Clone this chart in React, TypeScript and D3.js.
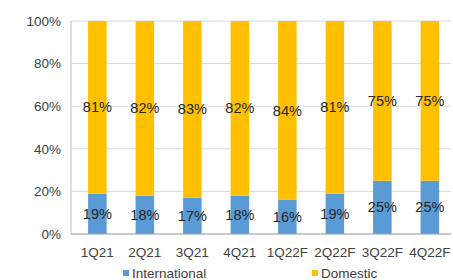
import * as d3 from "d3";

const quarters = ["1Q21", "2Q21", "3Q21", "4Q21", "1Q22F", "2Q22F", "3Q22F", "4Q22F"];
const international = [19, 18, 17, 18, 16, 19, 25, 25];
const domestic = [81, 82, 83, 82, 84, 81, 75, 75];
const yTicks = [0, 20, 40, 60, 80, 100];

const seriesNames = ["International", "Domestic"];
const colors = ["#5B9BD5", "#FFC000"];

export default function App() {
  const width = 453;
  const height = 280;
  const margin = { top: 21, right: 2, bottom: 46, left: 71 };
  const innerW = width - margin.left - margin.right;
  const innerH = height - margin.top - margin.bottom;

  const rows = quarters.map((q, i) => ({ q, International: international[i], Domestic: domestic[i] }));
  const stacked = d3.stack<any>().keys(seriesNames)(rows);

  const x = d3
    .scaleBand()
    .domain(quarters)
    .range([0, innerW])
    .paddingInner(0.61)
    .paddingOuter(0.305)
    .align(0.59);
  const y = d3.scaleLinear().domain([0, 100]).range([innerH, 0]);

  const font = "'Liberation Sans', Arial, sans-serif";

  return (
    <svg
      width={width}
      height={height}
      style={{ position: "absolute", left: 0, top: 0, background: "#fff" }}
      fontFamily={font}
    >
      <g transform={`translate(${margin.left},${margin.top})`}>
        {yTicks.map(t => (
          <g key={t}>
            <line x1={0} x2={innerW} y1={y(t)} y2={y(t)} stroke="#d9d9d9" strokeWidth={1} />
            <text x={-10} y={y(t)} dy="0.35em" textAnchor="end" fontSize={13.5} fill="#404040">
              {t}%
            </text>
          </g>
        ))}
        <line x1={0} x2={0} y1={0} y2={innerH} stroke="#bfbfbf" />
        {stacked.map((s, si) => (
          <g key={s.key}>
            {s.map((d, i) => (
              <g key={i}>
                <rect
                  x={x(quarters[i])!}
                  y={y(d[1])}
                  width={x.bandwidth()}
                  height={y(d[0]) - y(d[1])}
                  fill={colors[si]}
                />
                <text
                  x={x(quarters[i])! + x.bandwidth() / 2}
                  y={(y(d[0]) + y(d[1])) / 2}
                  dy="0.35em"
                  textAnchor="middle"
                  fontSize={14.5}
                  fill="#262626"
                >
                  {d[1] - d[0]}%
                </text>
              </g>
            ))}
          </g>
        ))}
        <line x1={0} x2={innerW} y1={innerH} y2={innerH} stroke="#a6a6a6" />
        {quarters.map(q => (
          <text
            key={q}
            x={x(q)! + x.bandwidth() / 2}
            y={innerH + 23}
            textAnchor="middle"
            fontSize={13.5}
            fill="#404040"
          >
            {q}
          </text>
        ))}
      </g>
      <g transform={`translate(0,${height - 2})`}>
        {seriesNames.map((n, i) => {
          const lx = i === 0 ? 123 : 312;
          return (
            <g key={n}>
              <rect x={lx} y={-8} width={6} height={6} fill={colors[i]} />
              <text x={lx + 9} y={0} fontSize={13.5} fill="#404040">
                {n}
              </text>
            </g>
          );
        })}
      </g>
    </svg>
  );
}
